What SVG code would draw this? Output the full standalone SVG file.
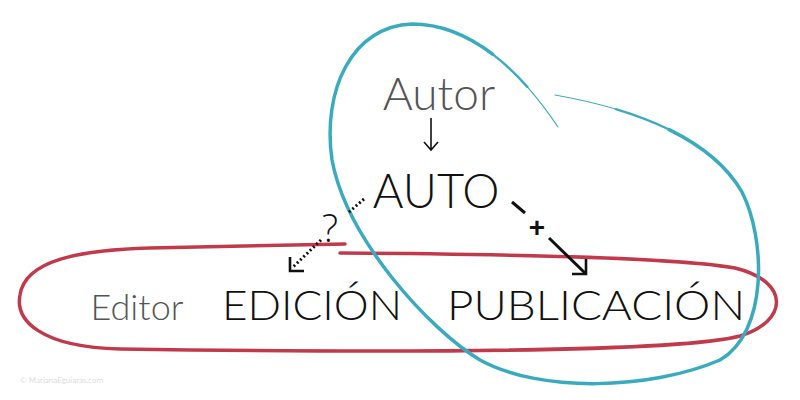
<svg xmlns="http://www.w3.org/2000/svg" width="800" height="400" viewBox="0 0 800 400">
<style>
.t{font-family:Lato,"Open Sans","Liberation Sans",sans-serif;font-weight:300}
.gray{fill:#555}
.blk{fill:#111}
.con{fill:none;stroke:#111;stroke-linecap:butt}
.bl{fill:none;stroke:#3aaabf;stroke-linecap:round}
</style>
<rect width="800" height="400" fill="#fff"/>
<g id="loops" fill="none">
<path id="red" d="M340,253 C500,254 680,258 735,268 C792,282 787,322 740,336 C680,352 400,353 120,349 C40,347 15,320 20,295 C25,260 80,250 150,248 L345,244" stroke="#c13a4c" stroke-width="3.5" stroke-linecap="round"/>
<path id="blue" class="bl" d="M492.5,54.1 C468,35.5 441,24 412,24 C352,26 322,90 332,160 C347,240 430,330 480,360 C540,393 650,390 720,360 C768,332 766,240 742,192 C727,166 701.5,145.5 669.1,129.6" stroke-width="3.5"/>
<path class="bl" d="M492.5,54.1 C504.75,63.4 516.4,74.5 527.3,86.85" stroke-width="2.4"/>
<path class="bl" d="M527.3,86.85 C538.25,99.2 548.5,112.75 558,127" stroke-width="1.1"/>
<path class="bl" d="M669.1,129.6 C652.9,121.7 635,114.9 615.85,109.15" stroke-width="2.2"/>
<path class="bl" d="M615.85,109.15 C596.7,103.4 576.25,98.75 555,95" stroke-width="1"/>
</g>
<g id="autor"><text class="t gray" x="439" y="110" font-size="46" text-anchor="middle">Autor</text></g>
<g id="auto"><text class="t blk" x="436" y="208" font-size="47" text-anchor="middle">AUTO</text></g>
<g id="editor"><text class="t gray" x="137" y="320" font-size="36" text-anchor="middle">Editor</text></g>
<g id="edicion"><text class="t blk" x="222" y="320" font-size="42" textLength="180" lengthAdjust="spacingAndGlyphs">EDICIÓN</text></g>
<g id="publicacion"><text class="t blk" x="447" y="320" font-size="42" textLength="298" lengthAdjust="spacingAndGlyphs">PUBLICACIÓN</text></g>
<g id="connectors">
<path class="con" d="M431,118 V150 M424,142 L431,150 L438,142" stroke-width="1.6"/>
<path class="con" d="M364,199 L348,213 M321,240 L292,268" stroke-width="3" stroke-dasharray="2 2.5"/>
<path class="con" d="M290,257 V271 H304" stroke-width="2.6"/>
<text x="330" y="242" font-family="'Open Sans','Liberation Sans',sans-serif" font-weight="300" font-size="38" fill="#111" text-anchor="middle">?</text>
<path class="con" d="M512,202 L525,213 M549,238 L585,273" stroke-width="3"/>
<path class="con" d="M586,259 V274 H572" stroke-width="2.6"/>
<text x="537" y="237" font-family="'Liberation Sans',sans-serif" font-size="28" font-weight="700" fill="#111" text-anchor="middle">+</text>
</g>
<text x="20" y="383" font-family="Lato,'Liberation Sans',sans-serif" font-size="8" fill="#ddd">© MarianaEguiaras.com</text>
</svg>
